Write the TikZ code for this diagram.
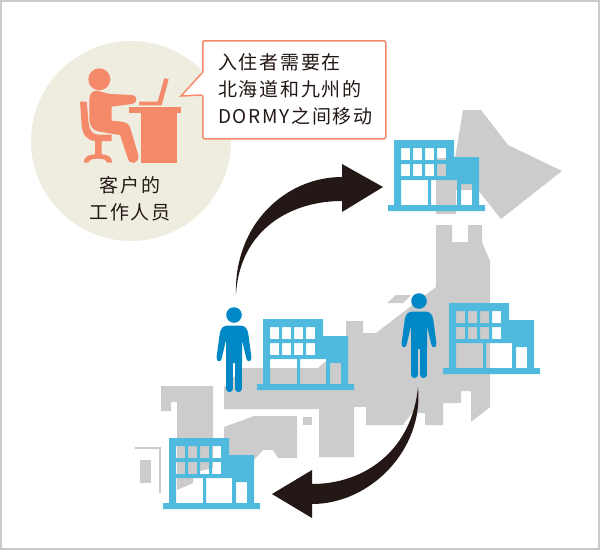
\documentclass[tikz,border=0pt]{standalone}
\usepackage{fontspec}
\newfontfamily\zhfont[LetterSpace=9]{Noto Sans CJK SC}
\definecolor{framegray}{RGB}{201,202,202}
\definecolor{mapgray}{RGB}{204,204,204}
\definecolor{beige}{RGB}{239,237,224}
\definecolor{salmon}{RGB}{245,138,106}
\definecolor{skyblue}{RGB}{80,185,222}
\definecolor{manblue}{RGB}{0,136,198}
\definecolor{arrowblack}{RGB}{35,24,21}

\begin{document}
\begin{tikzpicture}[x=1pt,y=-1pt,
    map/.style={fill=mapgray},
    bldg/.style={fill=skyblue,even odd rule},
    limb/.style={draw=manblue,line cap=round},
    staff/.style={fill=salmon},
    bigarrow/.style={fill=arrowblack},
    label/.style={font=\zhfont\fontsize{19}{27}\selectfont,text=arrowblack,align=center,inner sep=0pt}]
    \useasboundingbox (0,0) rectangle (600,550);
    \draw[framegray,line width=2pt] (1,1) rectangle (599,549);

    \fill[beige] (131,141) circle (100);

    % Map
    \fill[map] (463,110) -- (481,110) -- (508,145) -- (562,171) -- (501,219) -- (478,190) -- (456,190)
        -- (456,214) -- (436,214) -- (436,158) -- (455,158) -- cycle;
    \fill[map] (436,225) -- (452,225) -- (452,242) -- (468,242) -- (468,225) -- (482,225) -- (482,242)
        -- (490,261) -- (490,407) -- (471,422) -- (471,391) -- (461,391) -- (461,403) -- (443,403)
        -- (443,425) -- (425,425) -- (425,413) -- (412,413) -- (403,425) -- (366,425) -- (366,407)
        -- (354,407) -- (354,457) -- (319,457) -- (319,409) -- (224,409) -- (224,387) -- (243,368)
        -- (318,368) -- (346,344) -- (346,321) -- (363,321) -- (363,333) -- (376,333) -- (436,287) -- cycle;
    \fill[map] (387,303) -- (396,295) -- (411,295) -- (403,303) -- cycle;
    \fill[map] (161,386) -- (213,386) -- (213,468) -- (200,471) -- (193,477) -- (193,483) -- (177,490)
        -- (177,402) -- (171,402) -- (171,411) -- (161,411) -- cycle;
    \fill[map] (224,427) -- (254,416) -- (297,416) -- (297,458) -- (278,458) -- (273,450) -- (263,450)
        -- (254,460) -- (224,460) -- cycle;
    \fill[map] (303,417) rectangle (312,425);
    \fill[map] (140,460) rectangle (151,483);
    \draw[mapgray,line width=1.3pt] (135,448) -- (160,448) -- (160,493);

    % Buildings
    \foreach \bx/\by in {394/140,263/319,449/303,169/438} {
        \begin{scope}[shift={(\bx,\by)}]
            \fill[bldg] (0,0) -- (60,0) -- (60,17) -- (85,17) -- (85,65) -- (91,65) -- (91,71)
                -- (-6,71) -- (-6,65) -- (0,65) -- cycle
                \foreach \wx in {7,19,31,43} { (\wx,8) rectangle ++(9,12) (\wx,24) rectangle ++(9,12) }
                (7,40) rectangle ++(27,25) (37,40) rectangle ++(26,25) (67,44) rectangle ++(11,21);
        \end{scope}
    }

    % Residents
    \foreach \px/\py in {234/315,419/301} {
        \begin{scope}[shift={(\px,\py)}]
            \fill[manblue] (0,0) circle (7.8);
            \fill[manblue] (-6,10.5) -- (6,10.5) .. controls (11,10.5) and (13.5,13.5) .. (14.3,19)
                -- (17.4,42) .. controls (18,47.5) and (12.7,47.5) .. (12.2,43) -- (8,25) -- (8,48) -- (-8,48) -- (-8,25)
                -- (-12.2,43) .. controls (-12.7,47.5) and (-18,47.5) .. (-17.4,42) -- (-14.3,19)
                .. controls (-13.5,13.5) and (-11,10.5) .. (-6,10.5) -- cycle;
            \draw[limb,line width=7.2pt] (-4.4,40) -- (-4.4,73.5);
            \draw[limb,line width=7.2pt] (4.4,40) -- (4.4,73.5);
        \end{scope}
    }

    % Arrows
    \fill[bigarrow] (236,294) .. controls (234,225) and (285,177) .. (342,177) -- (342,164) -- (383,187)
        -- (342,212) -- (342,201) .. controls (290,201) and (240,230) .. (236,294) -- cycle;
    \fill[bigarrow] (418,387) .. controls (424,450) and (370,504) .. (312,504) -- (312,518) -- (272,494)
        -- (312,470) -- (312,484) .. controls (365,484) and (412,450) .. (418,387) -- cycle;

    % Staff at the desk
    \begin{scope}[shift={(70,60)},scale=1/3]
        \fill[staff] (88,58) circle (33);
        \fill[staff] (58,118) .. controls (58,100) and (68,92) .. (82,92) -- (120,102) -- (188,105)
            .. controls (203,108) and (203,130) .. (186,132) -- (125,140) -- (125,182) -- (155,185)
            .. controls (172,187) and (178,195) .. (182,208) -- (205,285) .. controls (210,310) and (180,318) .. (174,296)
            -- (150,225) -- (88,215) .. controls (68,212) and (60,200) .. (58,175) -- cycle;
        \fill[staff] (30,125) -- (50,125) -- (56,190) .. controls (58,210) and (68,224) .. (85,224) -- (125,224)
            -- (125,243) -- (95,243) -- (95,283) .. controls (115,283) and (127,293) .. (126,308) -- (112,308)
            .. controls (110,300) and (103,296) .. (84,296) .. controls (65,296) and (57,300) .. (55,308) -- (41,308)
            .. controls (40,293) and (55,283) .. (75,283) -- (75,243) .. controls (50,240) and (37,225) .. (35,195) -- cycle;
        \fill[staff] (178,141) rectangle (332,158);
        \fill[staff] (212,158) rectangle (320,308);
        \fill[staff] (283,54) -- (296,58) -- (275,136) -- (207,136) -- (207,125) -- (263,125) -- cycle;
    \end{scope}
    \node[label] (staffname) at (130,199) {客户的\\工作人员};

    % Speech bubble
    \node[draw=salmon,line width=1.5pt,fill=white,rounded corners=1.5pt,minimum width=183pt,minimum height=98pt,
        anchor=north west,inner sep=0pt] (bubble) at (202,40) {};
    \node[label,align=left,anchor=west] (bubbletext) at (218,89.5) {入住者需要在\\北海道和九州的\\DORMY之间移动};
    \coordinate (tailtop) at (202,73);
    \coordinate (tailtip) at (181,96);
    \coordinate (tailend) at (202,95);
    \fill[white] (tailtop) -- (tailtip) -- (tailend) -- ([xshift=2pt]tailend) -- ([xshift=2pt]tailtop) -- cycle;
    \draw[salmon,line width=1.5pt,line join=miter] (tailtop) -- (tailtip) -- (tailend);
\end{tikzpicture}
\end{document}
